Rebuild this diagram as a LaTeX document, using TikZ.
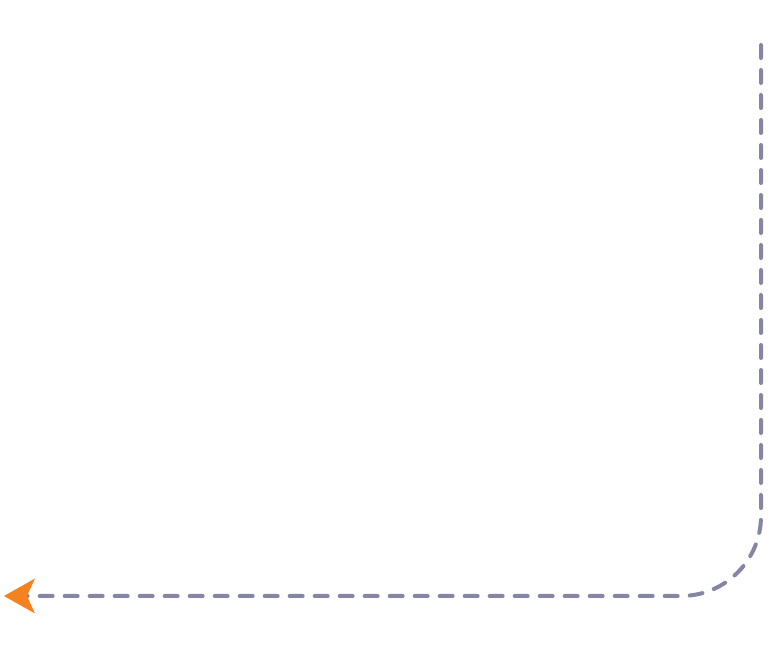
\documentclass[tikz,border=0pt]{standalone}
\usetikzlibrary{arrows.meta}
\definecolor{linegray}{HTML}{8585A5}
\definecolor{tiporange}{HTML}{F58220}
\tikzset{
  flow/.style={draw=linegray, line width=4pt, line cap=round,
    dash pattern=on 13pt off 12pt, rounded corners=80pt,
    -{Stealth[length=31pt,width=35pt,inset=8pt,color=tiporange,fill=tiporange,line width=0pt]}}
}
\begin{document}
\begin{tikzpicture}[x=1pt,y=1pt]
\useasboundingbox (0,0) rectangle (782,658);
\coordinate (start) at (761,613);
\coordinate (corner) at (761,62);
\coordinate (tip) at (4,62);
\draw[flow] (start) -- (corner) -- (tip);
\end{tikzpicture}
\end{document}
